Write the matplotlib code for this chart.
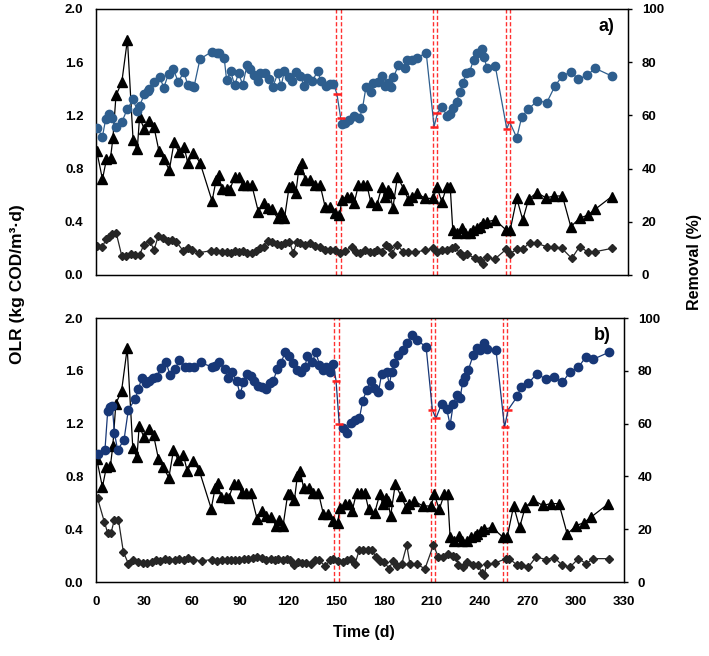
import numpy as np
import matplotlib.pyplot as plt

plt.rcParams['font.family'] = ['Liberation Sans', 'DejaVu Sans']
plt.rcParams['font.weight'] = 'bold'

# OLR influent (triangles) - same in both panels
olr_days = [0.4, 4, 6.5, 9, 10.5, 12.4, 16, 19.5, 23, 25.6, 27, 30, 33, 36, 39, 42, 45.5, 48.4,
            51.3, 54.6, 57, 60.4, 64.5, 72, 74.5, 76, 78.2, 81, 83, 86, 88.5, 91, 93.7, 96.6,
            100.7, 104, 106.4, 109.3, 112.6, 114.6, 116.9, 119.8, 121.5, 124, 125.8, 127.6,
            129.7, 132.8, 135.9, 139, 142.1, 145.2, 148.3, 151, 152.5, 155.6, 158, 160.1,
            162.8, 165.5, 168, 170.4, 174.2, 177.3, 179.3, 181.4, 182.4, 184.1, 187, 190.7,
            193.8, 195.9, 199, 204.2, 209.3, 211.4, 214.5, 217.6, 219.7, 221.3, 223.8, 226.9,
            229, 232.1, 234.1, 236.6, 238.3, 240.3, 242.4, 247.6, 254.4, 256.9, 261, 264.7,
            268.3, 273.4, 279.2, 284.2, 289.3, 294.5, 299.9, 304.9, 309.6, 319.9]
olr_vals = [0.935, 0.72, 0.87, 0.88, 1.03, 1.35, 1.45, 1.77, 1.015, 0.945, 1.185, 1.095, 1.16,
            1.11, 0.935, 0.872, 0.79, 0.997, 0.927, 0.965, 0.84, 0.92, 0.845, 0.556, 0.714,
            0.752, 0.644, 0.644, 0.64, 0.74, 0.74, 0.677, 0.677, 0.677, 0.476, 0.54, 0.5,
            0.494, 0.426, 0.47, 0.426, 0.664, 0.67, 0.62, 0.8, 0.84, 0.714, 0.714, 0.677,
            0.677, 0.514, 0.514, 0.464, 0.45, 0.564, 0.59, 0.59, 0.539, 0.677, 0.677, 0.677,
            0.55, 0.526, 0.664, 0.59, 0.64, 0.614, 0.5, 0.74, 0.65, 0.564, 0.59, 0.614, 0.576,
            0.576, 0.664, 0.55, 0.664, 0.664, 0.338, 0.313, 0.35, 0.313, 0.313, 0.338, 0.35,
            0.363, 0.388, 0.4, 0.414, 0.338, 0.338, 0.576, 0.414, 0.569, 0.62, 0.58, 0.594,
            0.594, 0.363, 0.426, 0.45, 0.494, 0.59]

# panel a) removal (%)
rem_a_days = [0.4, 4, 6, 8, 9.7, 12.4, 16, 19.4, 23, 25.6, 27, 30, 32, 33, 36, 39.5, 42, 45, 48,
              51, 54.5, 57, 59.5, 60.8, 64.5, 72, 75, 76.6, 79.5, 81, 83.5, 86, 88.5, 91, 93.7,
              95.8, 97.8, 100.3, 102, 104.6, 107.5, 109.7, 112.8, 114.8, 116.9, 119.8, 121.6,
              124.3, 126.8, 128.9, 131, 134, 137.6, 139.4, 142.7, 145.2, 147.3,
              152.5, 154.5, 157.2, 160.1, 163.4, 165.3, 167.5, 170.4, 172.1, 175.2, 177.2,
              179.3, 181.4, 182.8, 184.5, 187.6, 191.7, 193.2, 195.9, 199, 204.8,
              214.5, 217.6, 219.7, 221.7, 223.8, 225.5, 227.6, 229.6, 231.7, 234.2, 236.6,
              239.3, 240.8, 242.4, 247.6,
              261, 264.1, 268.2, 273.8, 279.6, 284.8, 289.3, 294.5, 299.2, 304.8, 309.6, 319.9]
rem_a_vals = [55.4, 52, 58.6, 60.4, 58.9, 55.8, 57.4, 62.4, 66, 61.8, 63.5, 68, 69.2, 70, 72.4,
              74.6, 70.4, 75.6, 77.3, 72.6, 76.3, 71.3, 71.2, 70.8, 81.2, 84, 83.3, 83.3, 81.7,
              73.3, 76.6, 71.4, 75.9, 71.4, 79, 77.3, 75.2, 73, 76, 75.8, 73.8, 70.8, 75.8, 71,
              76.8, 74.6, 72.9, 76.4, 74.9, 71.2, 73.9, 72.8, 76.7, 73, 71.2, 71.7, 71.7,
              56.8, 57.3, 58.3, 59.8, 58.9, 62.7, 70.8, 68.8, 72.3, 72.7, 74.8, 71.1, 72.1,
              70.6, 74.3, 78.9, 77.7, 80.8, 80.8, 81.5, 83.6,
              63.3, 59.9, 60.5, 62.7, 65.2, 68.9, 72.1, 75.8, 76.4, 80.8, 83.6, 84.8, 82.1,
              77.7, 78.7,
              51.6, 59.5, 62.4, 65.5, 64.8, 71.2, 74.8, 76.4, 73.6, 75.2, 77.7, 74.8]
cap_a_days = [149.4, 151.8, 209.7, 211.8, 254.8, 256.5]
cap_a_vals = [68.2, 58.9, 55.8, 60.8, 54.9, 57.6]

# panel a) diamonds
dia_a_days = [0.4, 4, 6, 8, 10, 12.6, 16, 18.5, 21.5, 24, 27, 29.6, 33.3, 36, 38.6, 41.5, 44.6,
              47, 49.8, 54, 57, 59.8, 64, 71.6, 74.7, 78.4, 81, 83.5, 86.2, 88.8, 91.3, 93.8,
              96.5, 99.2, 101.6, 104, 106.8, 109, 112, 114.5, 117.2, 120, 122.4, 124.5, 126.6,
              129.7, 132.8, 135.9, 139, 142.1, 145.2, 148.3, 151.4, 154.5, 158.7, 161.3, 163.8,
              166.9, 170, 172.5, 174.6, 177.3, 180, 182, 183.5, 186.6, 190.7, 193.8, 198,
              204.2, 209.3, 211.4, 214.5, 217.6, 220.7, 222.8, 225.5, 227.9, 230, 235.2, 238.3,
              239.9, 242.4, 247.2, 254.4, 256.5, 261, 264.7, 268.9, 273.4, 279.6, 284.2, 289,
              295.1, 299.9, 304.9, 309.6, 319.9]
dia_a_vals = [0.218, 0.208, 0.268, 0.288, 0.306, 0.313, 0.143, 0.143, 0.158, 0.15, 0.15, 0.226,
              0.258, 0.188, 0.293, 0.276, 0.258, 0.263, 0.25, 0.183, 0.2, 0.188, 0.168, 0.183,
              0.183, 0.175, 0.175, 0.168, 0.183, 0.175, 0.183, 0.168, 0.168, 0.183, 0.2, 0.213,
              0.258, 0.25, 0.233, 0.226, 0.238, 0.25, 0.163, 0.25, 0.238, 0.226, 0.238, 0.218,
              0.213, 0.188, 0.188, 0.188, 0.163, 0.183, 0.208, 0.175, 0.163, 0.188, 0.175,
              0.175, 0.188, 0.175, 0.226, 0.213, 0.158, 0.226, 0.175, 0.175, 0.17, 0.188, 0.2,
              0.175, 0.188, 0.188, 0.2, 0.213, 0.163, 0.143, 0.158, 0.125, 0.113, 0.083, 0.138,
              0.118, 0.193, 0.158, 0.193, 0.193, 0.243, 0.238, 0.213, 0.213, 0.2, 0.125, 0.213,
              0.175, 0.175, 0.2]

# panel b) removal (%)
rem_b_days = [1.5, 5.6, 7.3, 8.75, 10.2, 11.5, 13.5, 17.5, 20.2, 24.4, 26.5, 28.5, 31.25, 33.3,
              35.8, 37.9, 40.4, 43.75, 46.25, 49.4, 52.1, 55.6, 58.3, 61.25, 65.4, 72.5, 74.6,
              77.1, 80.6, 82.3, 84.8, 87.9, 90, 92.1, 94.6, 96.7, 98.75, 101.25, 103.75, 106,
              108.75, 110.8, 113.3, 115.4, 118.3, 120.8, 122.9, 125.4, 127.9, 130.6, 132.1,
              135.2, 137.5, 139.6, 141.7, 143.8, 146.3, 148.3,
              154.2, 156.7, 159.2, 161.9, 164.6, 166.7, 169.2, 171.7, 173.8, 176.5, 178.5,
              181.7, 183.3, 184.8, 186.3, 189, 192.1, 194.2, 197.3, 200.4, 206.3,
              216, 219.2, 221.3, 223.3, 225.4, 227.5, 229.2, 230.6, 232.7, 235.8, 237.9, 240,
              242.5, 244.2, 250,
              263.3, 265.4, 270.2, 275.4, 281.3, 286.3, 291.5, 296.3, 301.5, 306.3, 310.8, 320.8]
rem_b_vals = [48.5, 50, 64.6, 66.2, 66.5, 56.6, 50, 53.8, 65.2, 69.2, 73, 77.2, 75.3, 76.3, 77.2,
              77.8, 81, 83.2, 78.5, 80.6, 84.2, 81.4, 81.4, 81.4, 83.2, 81.4, 81.9, 83.2, 80.6,
              77.2, 79.4, 76.2, 71.1, 75.6, 78.9, 78.1, 76.3, 74.3, 73.7, 73.2, 75.3, 76.2, 80.8,
              82.9, 87, 85.7, 82.9, 80.4, 79.7, 81.6, 85.8, 83.5, 87, 82.3, 80.4, 81.6, 79.7,
              82.5,
              58.2, 56.6, 60.1, 61.4, 62, 68.7, 72.8, 76.2, 73.4, 71.8, 78.9, 79.7, 74.7, 79.7,
              82.9, 86.1, 88, 90.5, 93.7, 91.8, 89,
              67.5, 65.4, 59.5, 67.5, 70.9, 69.6, 75.9, 77.8, 80.4, 86.1, 88.6, 88, 90.5, 88.2,
              87.7,
              70.3, 73.8, 75.3, 78.9, 76.8, 77.6, 75.6, 79.7, 81.4, 85.4, 84.4, 87.1]
cap_b_days = [150, 152, 210.2, 212.4, 255.3, 257.5]
cap_b_vals = [76.3, 59.9, 65.2, 62, 58.6, 65.2]

# panel b) diamonds
dia_b_days = [1, 5.2, 7.3, 9.4, 11.5, 14, 17.1, 20.2, 23.3, 26.5, 29.2, 32.1, 34.8, 37.5, 40,
              43.1, 45.8, 49.4, 52.1, 55, 57.7, 60.4, 66, 72.3, 75.4, 78.5, 81.7, 84.2, 86.9,
              89.6, 92.5, 95.2, 97.9, 100.8, 103.5, 106.25, 109.2, 111.9, 114, 116.7, 119.2,
              121.25, 123.75, 126, 128.5, 131.25, 134.2, 136.9, 139.6, 143.1, 146.25, 148.3,
              151.5, 154.2, 156.7, 159.2, 161.9, 164.6, 167.1, 170.2, 172.3, 175, 177.5, 180,
              183.3, 185.4, 187.9, 191, 194.2, 196.25, 200.4, 205.6, 210.8, 214, 217.1, 220.2,
              222.9, 225, 226.5, 229.2, 232.1, 235.4, 239, 241, 242.5, 244.2, 249.4, 256.25,
              258.3, 263.3, 265.4, 270.2, 275, 281.25, 286.25, 291.5, 296.25, 301.5, 306.25,
              310.8, 320.8]
dia_b_vals = [0.633, 0.456, 0.372, 0.372, 0.473, 0.473, 0.228, 0.139, 0.17, 0.152, 0.144, 0.144,
              0.152, 0.17, 0.16, 0.177, 0.17, 0.17, 0.177, 0.165, 0.185, 0.17, 0.16, 0.17, 0.16,
              0.17, 0.165, 0.17, 0.17, 0.17, 0.177, 0.177, 0.185, 0.19, 0.185, 0.17, 0.177,
              0.17, 0.177, 0.17, 0.177, 0.165, 0.127, 0.152, 0.144, 0.144, 0.134, 0.165, 0.165,
              0.119, 0.165, 0.177, 0.16, 0.152, 0.17, 0.177, 0.139, 0.246, 0.246, 0.246, 0.246,
              0.19, 0.16, 0.152, 0.101, 0.16, 0.119, 0.134, 0.278, 0.134, 0.134, 0.101, 0.278,
              0.19, 0.19, 0.21, 0.195, 0.19, 0.127, 0.114, 0.152, 0.127, 0.127, 0.068, 0.051,
              0.134, 0.144, 0.177, 0.177, 0.127, 0.127, 0.114, 0.19, 0.17, 0.185, 0.127, 0.114,
              0.177, 0.139, 0.177, 0.177]

change_days = [148.6, 151.7, 209.3, 211.8, 254.1, 256.9]

fig = plt.figure(figsize=(7.09, 6.56), dpi=100)
ax_a = fig.add_axes([0.1354, 0.5808, 0.7504, 0.4055])
ax_b = fig.add_axes([0.1354, 0.1128, 0.7448, 0.4024])

panels = [(ax_a, rem_a_days, rem_a_vals, cap_a_days, cap_a_vals, dia_a_days, dia_a_vals, '#2E5E8E', 'a)'),
          (ax_b, rem_b_days, rem_b_vals, cap_b_days, cap_b_vals, dia_b_days, dia_b_vals, '#173777', 'b)')]

for ax, rd, rv, cd, cv, dd, dv, col, tag in panels:
    ax.plot(olr_days, olr_vals, color='black', lw=0.9, marker='^', ms=7.5, zorder=3)
    ax.plot(dd, dv, color='#262626', lw=0.9, marker='D', ms=4.3, zorder=3)
    for d in change_days:
        ax.axvline(d, color='#FF3030', ls=(0, (3, 1.6)), lw=1.0, zorder=2)
    ax.set_xlim(0, 330)
    ax.set_ylim(0, 2.0)
    ax.set_yticks(np.arange(0, 2.01, 0.4))
    ax.set_yticklabels([f'{v:.1f}' for v in np.arange(0, 2.01, 0.4)])
    ax.set_xticks(range(0, 331, 30))
    ax.tick_params(axis='y', length=0, pad=9, labelsize=9.5)
    ax.tick_params(axis='x', length=0, pad=10, labelsize=9.5)
    for s in ax.spines.values():
        s.set_linewidth(1.0)

    tw = ax.twinx()
    # line runs through the red marks at the change points
    ld = np.array(list(rd) + list(cd))
    lv = np.array(list(rv) + list(cv))
    order = np.argsort(ld)
    tw.plot(ld[order], lv[order], color=col, lw=0.9, zorder=3)
    tw.plot(rd, rv, ls='none', marker='o', ms=6, color=col, zorder=4)
    tw.plot(cd, cv, ls='none', marker='_', ms=6, mew=1.8, color='#FF2020', zorder=5)
    tw.set_ylim(0, 100)
    tw.set_yticks(range(0, 101, 20))
    tw.tick_params(axis='y', length=3, direction='out', pad=7, labelsize=9.5, width=1.0)
    tw.text(0.975, 0.965, tag, transform=tw.transAxes, ha='right', va='top',
            fontsize=13, fontweight='bold')

ax_a.set_xticklabels([])

fig.text(0.024, 0.567, 'OLR (kg COD/m\u00b3\u00b7d)', rotation=90, ha='center', va='center',
         fontsize=12.5, fontweight='bold')
fig.text(0.98, 0.60, 'Removal (%)', rotation=90, ha='center', va='center',
         fontsize=11.5, fontweight='bold')
fig.text(0.513, 0.036, 'Time (d)', ha='center', va='center', fontsize=11.5, fontweight='bold')

fig.savefig('out.png', dpi=100)
